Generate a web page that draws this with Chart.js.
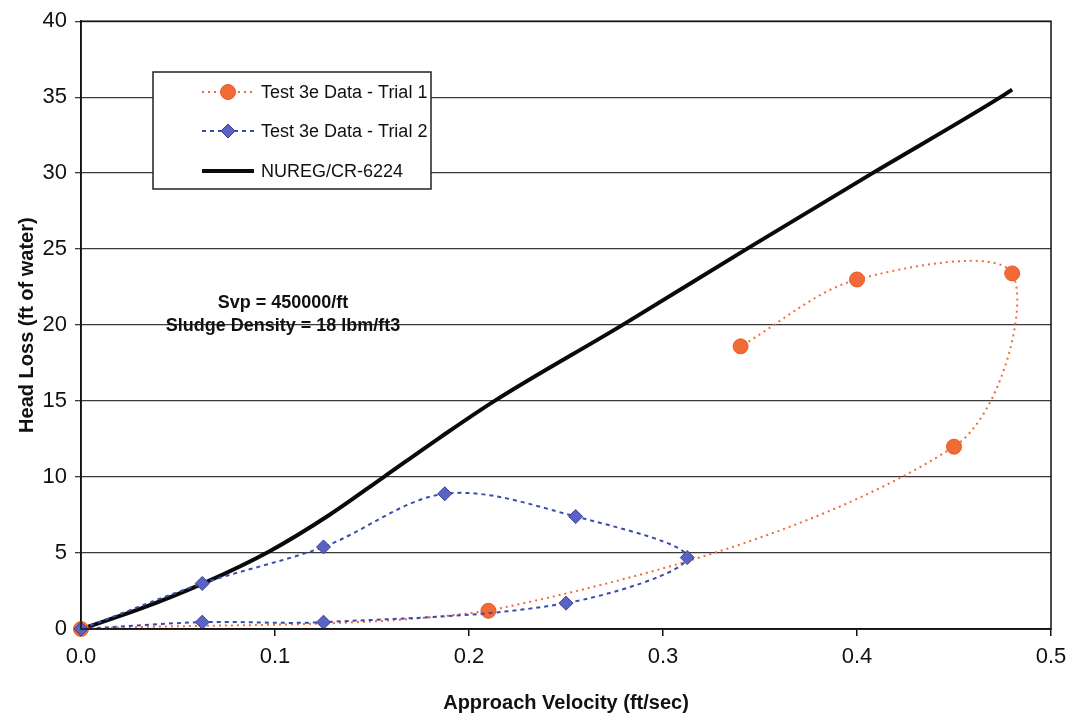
<!DOCTYPE html>
<html>
<head>
<meta charset="utf-8">
<script src="https://cdn.jsdelivr.net/npm/chart.js"></script>
<style>
  html, body { margin: 0; padding: 0; background: #fff; }
  #wrap { width: 1076px; height: 717px; }
</style>
</head>
<body>
<div id="wrap"><canvas id="headChart" width="1076" height="717"></canvas></div>
<script>
// values
const trial1X = [0, 0.21, 0.45, 0.48, 0.40, 0.34];
const trial1Y = [0, 1.2, 12.0, 23.4, 23.0, 18.6];

const trial2X = [0, 0.0625, 0.125, 0.25, 0.3125, 0.255, 0.1875, 0.125, 0.0625, 0];
const trial2Y = [0, 0.45, 0.45, 1.7, 4.7, 7.4, 8.9, 5.4, 3.0, 0];

const nuregX = [0, 0.03, 0.063, 0.097, 0.128, 0.156, 0.185, 0.213, 0.279, 0.343, 0.408, 0.474, 0.48];
const nuregY = [0, 1.3, 3.0, 5.1, 7.5, 10.0, 12.6, 15.0, 20, 25, 30, 35, 35.5];

const xTicks = [0, 0.1, 0.2, 0.3, 0.4, 0.5];
const yTicks = [0, 5, 10, 15, 20, 25, 30, 35, 40];

const seriesNames = ["Test 3e Data - Trial 1", "Test 3e Data - Trial 2", "NUREG/CR-6224"];
const noteLines = ["Svp = 450000/ft", "Sludge Density = 18 lbm/ft3"];

const FONT = "'Liberation Sans', Arial, sans-serif";
const ORANGE = "#f26a35";
const BLUE_LINE = "#3b4bab";
const BLUE_FILL = "#5a62c2";

function toPoints(xs, ys) {
  return xs.map((x, i) => ({ x: x, y: ys[i] }));
}

// draws a legend marker (circle or diamond)
function drawMarker(ctx, style, x, y, r, fill, stroke) {
  ctx.save();
  ctx.beginPath();
  if (style === "circle") {
    ctx.arc(x, y, r, 0, Math.PI * 2);
  } else {
    ctx.moveTo(x, y - r);
    ctx.lineTo(x + r, y);
    ctx.lineTo(x, y + r);
    ctx.lineTo(x - r, y);
    ctx.closePath();
  }
  ctx.fillStyle = fill;
  ctx.fill();
  ctx.lineWidth = 1;
  ctx.strokeStyle = stroke;
  ctx.stroke();
  ctx.restore();
}

// frame, legend box and the note text
const extras = {
  id: "extras",
  afterDraw(chart) {
    const ctx = chart.ctx;
    const a = chart.chartArea;

    ctx.save();
    ctx.strokeStyle = "#111";
    ctx.lineWidth = 1.5;
    ctx.strokeRect(a.left, a.top, a.right - a.left, a.bottom - a.top);

    // legend box
    const bx = 153, by = 72, bw = 278, bh = 117;
    ctx.fillStyle = "#fff";
    ctx.fillRect(bx, by, bw, bh);
    ctx.strokeStyle = "#222";
    ctx.lineWidth = 1.5;
    ctx.strokeRect(bx, by, bw, bh);

    const rows = [92, 131, 171];
    const ds = chart.data.datasets;
    ctx.font = "18px " + FONT;
    ctx.textBaseline = "middle";
    ctx.textAlign = "left";
    for (let i = 0; i < 3; i++) {
      const d = ds[i];
      const y = rows[i];
      ctx.save();
      ctx.strokeStyle = d.borderColor;
      ctx.lineWidth = d.borderWidth;
      ctx.setLineDash(d.borderDash || []);
      ctx.beginPath();
      ctx.moveTo(202, y);
      ctx.lineTo(254, y);
      ctx.stroke();
      ctx.restore();
      if (d.pointRadius > 0) {
        drawMarker(ctx, d.pointStyle, 228, y, d.pointRadius, d.pointBackgroundColor, d.pointBorderColor);
      }
      ctx.fillStyle = "#111";
      ctx.fillText(seriesNames[i], 261, y + 1);
    }

    // note text
    ctx.font = "bold 18px " + FONT;
    ctx.textAlign = "center";
    ctx.fillStyle = "#111";
    ctx.fillText(noteLines[0], 283, 303);
    ctx.fillText(noteLines[1], 283, 326);
    ctx.restore();
  }
};

const ctx = document.getElementById("headChart").getContext("2d");
const headChart = new Chart(ctx, {
  type: "scatter",
  data: {
    datasets: [
      {
        label: seriesNames[0],
        data: toPoints(trial1X, trial1Y),
        showLine: true,
        borderColor: ORANGE,
        borderWidth: 2,
        borderDash: [2, 4],
        tension: 0.33,
        pointStyle: "circle",
        pointRadius: 7.5,
        pointBackgroundColor: ORANGE,
        pointBorderColor: "#e85a28",
        pointBorderWidth: 1,
        clip: false,
        order: 2,
      },
      {
        label: seriesNames[1],
        data: toPoints(trial2X, trial2Y),
        showLine: true,
        borderColor: BLUE_LINE,
        borderWidth: 2,
        borderDash: [4, 4],
        tension: 0.33,
        pointStyle: "rectRot",
        pointRadius: 7,
        pointBackgroundColor: BLUE_FILL,
        pointBorderColor: "#38409a",
        pointBorderWidth: 1,
        clip: false,
        order: 1,
      },
      {
        label: seriesNames[2],
        data: toPoints(nuregX, nuregY),
        showLine: true,
        borderColor: "#0a0a0a",
        borderWidth: 4,
        cubicInterpolationMode: "monotone",
        pointRadius: 0,
        clip: false,
        order: 3,
      },
    ],
  },
  options: {
    responsive: false,
    animation: false,
    devicePixelRatio: 1,
    layout: { padding: { top: 20, right: 25, left: 0, bottom: 0 } },
    plugins: {
      legend: { display: false },
      tooltip: { enabled: false },
    },
    scales: {
      x: {
        type: "linear",
        min: 0,
        max: 0.5,
        afterFit: (s) => { s.height = 88; },
        afterBuildTicks: (s) => { s.ticks = xTicks.map((v) => ({ value: v })); },
        ticks: {
          color: "#111",
          font: { family: FONT, size: 22 },
          padding: 8,
          callback: (v) => v.toFixed(1),
        },
        grid: {
          drawOnChartArea: false,
          drawTicks: true,
          tickLength: 7,
          color: "#111",
          lineWidth: 1.5,
        },
        border: { color: "#111", width: 1.5 },
        title: {
          display: true,
          text: "Approach Velocity (ft/sec)",
          color: "#111",
          font: { family: FONT, size: 20, weight: "bold" },
          padding: { top: 0, bottom: 2 },
        },
      },
      y: {
        type: "linear",
        min: 0,
        max: 40,
        afterFit: (s) => { s.width = 81; },
        afterBuildTicks: (s) => { s.ticks = yTicks.map((v) => ({ value: v })); },
        ticks: {
          color: "#111",
          font: { family: FONT, size: 22 },
          padding: 8,
        },
        grid: {
          color: "#3a3a3a",
          lineWidth: 1.3,
          tickLength: 6,
        },
        border: { color: "#111", width: 1.5 },
        title: {
          display: true,
          text: "Head Loss (ft of water)",
          color: "#111",
          font: { family: FONT, size: 20, weight: "bold" },
          padding: { top: 15, bottom: 0 },
        },
      },
    },
  },
  plugins: [extras],
});
</script>
</body>
</html>
